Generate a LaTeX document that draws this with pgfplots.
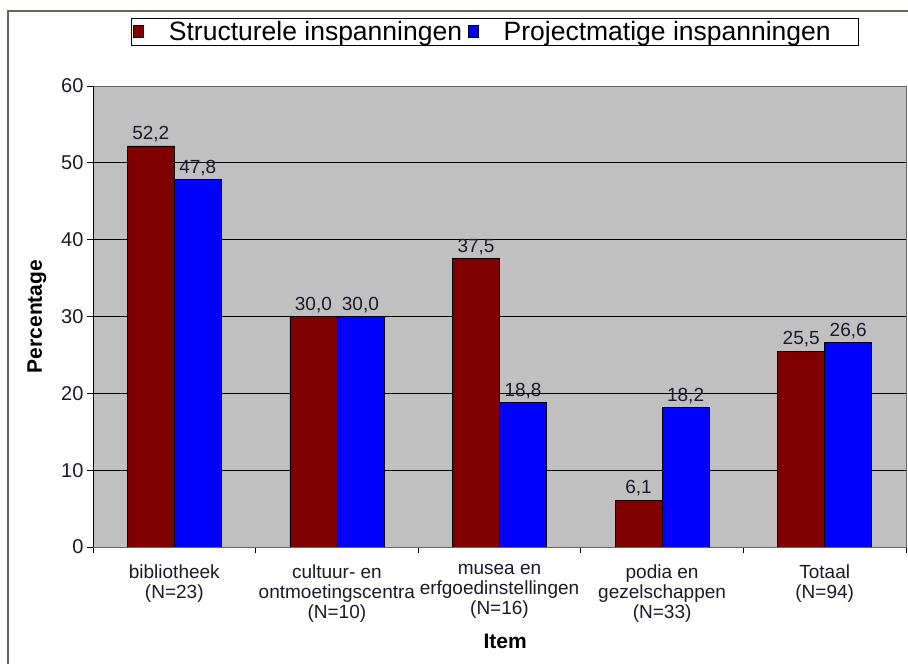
\documentclass[border=0pt]{standalone}
\usepackage{pgfplots}
\pgfplotsset{compat=1.18}
\usepackage{fontspec}
\setmainfont{Liberation Sans}
\definecolor{plotbg}{HTML}{C0C0C0}
\definecolor{sred}{HTML}{800000}
\definecolor{pblue}{HTML}{0000FF}
\definecolor{framec}{HTML}{6E6259}
\definecolor{txt}{HTML}{1A1A2A}
\begin{document}
\begin{tikzpicture}
\useasboundingbox (0,0) rectangle (908bp,664bp);
\fill[white] (0,0) rectangle (908bp,664bp);
\draw[line width=2.2bp, framec] (8bp,0) -- (8bp,653bp) -- (912bp,653bp);
\begin{axis}[
  at={(93bp,117bp)}, anchor=south west,
  width=813bp, height=461bp, scale only axis,
  ybar=0pt, bar width=47bp,
  xmin=-0.5, xmax=4.5, ymin=0, ymax=60,
  ytick={0,10,...,60},
  xtick={0,1,2,3,4},
  xticklabels={{bibliotheek\\(N=23)},{cultuur- en\\ontmoetingscentra\\(N=10)},{musea en\\erfgoedinstellingen\\(N=16)},{podia en\\gezelschappen\\(N=33)},{Totaal\\(N=94)}},
  minor xtick={-0.5,0.5,...,4.5},
  tick align=outside,
  major x tick style={draw=none},
  minor x tick style={black, line width=0.8bp},
  minor tick length=6bp,
  major tick length=6bp,
  y tick style={black, line width=0.8bp},
  xtick pos=bottom, ytick pos=left,
  ymajorgrids, grid style={black, line width=0.9bp},
  axis background/.style={fill=plotbg},
  axis line style={draw=gray!80!black, line width=0.8bp},
  /pgf/number format/assume math mode=true,
  yticklabel style={font=\fontsize{20bp}{22bp}\selectfont, text=txt},
  xticklabel style={font=\fontsize{19bp}{20bp}\selectfont, text=txt, align=center, anchor=north, yshift=-8bp},
  xlabel={Item}, ylabel={Percentage},
  xlabel style={font=\bfseries\fontsize{21bp}{22bp}\selectfont, at={(axis description cs:0.507,-0.204)}, anchor=center},
  ylabel style={font=\bfseries\fontsize{21bp}{22bp}\selectfont, at={(axis description cs:-0.0689,0.5)}, anchor=center},
  nodes near coords,
  nodes near coords style={font=\fontsize{19bp}{20bp}\selectfont, text=txt, /pgf/number format/.cd, fixed, fixed zerofill, precision=1, use comma, assume math mode=true},
  legend columns=2,
  legend style={at={(axis description cs:0.4945,1.117)}, anchor=center, draw=black, line width=0.8bp, fill=white,
    font=\fontsize{26.5bp}{28bp}\selectfont, inner xsep=2bp, inner ysep=1.5bp,
    nodes={inner xsep=0bp},
    /tikz/every odd column/.append style={column sep=25bp},
    /tikz/every even column/.append style={column sep=6bp}},
  legend image code/.code={\draw[#1, draw=black, line width=0.6bp] (0bp,-5bp) rectangle (10bp,7bp);},
]
\addplot[fill=sred, draw=black, line width=0.8bp] coordinates {(0,52.2) (1,30.0) (2,37.5) (3,6.1) (4,25.5)};
\addplot[fill=pblue, draw=black, line width=0.8bp] coordinates {(0,47.8) (1,30.0) (2,18.8) (3,18.2) (4,26.6)};
\legend{Structurele inspanningen, Projectmatige inspanningen\rule{26bp}{0pt}}
\draw[black, line width=0.9bp] (rel axis cs:0,0) -- (rel axis cs:0,1);
\draw[black, line width=0.9bp] (rel axis cs:0,0) -- (rel axis cs:1,0);
\end{axis}
\end{tikzpicture}
\end{document}
